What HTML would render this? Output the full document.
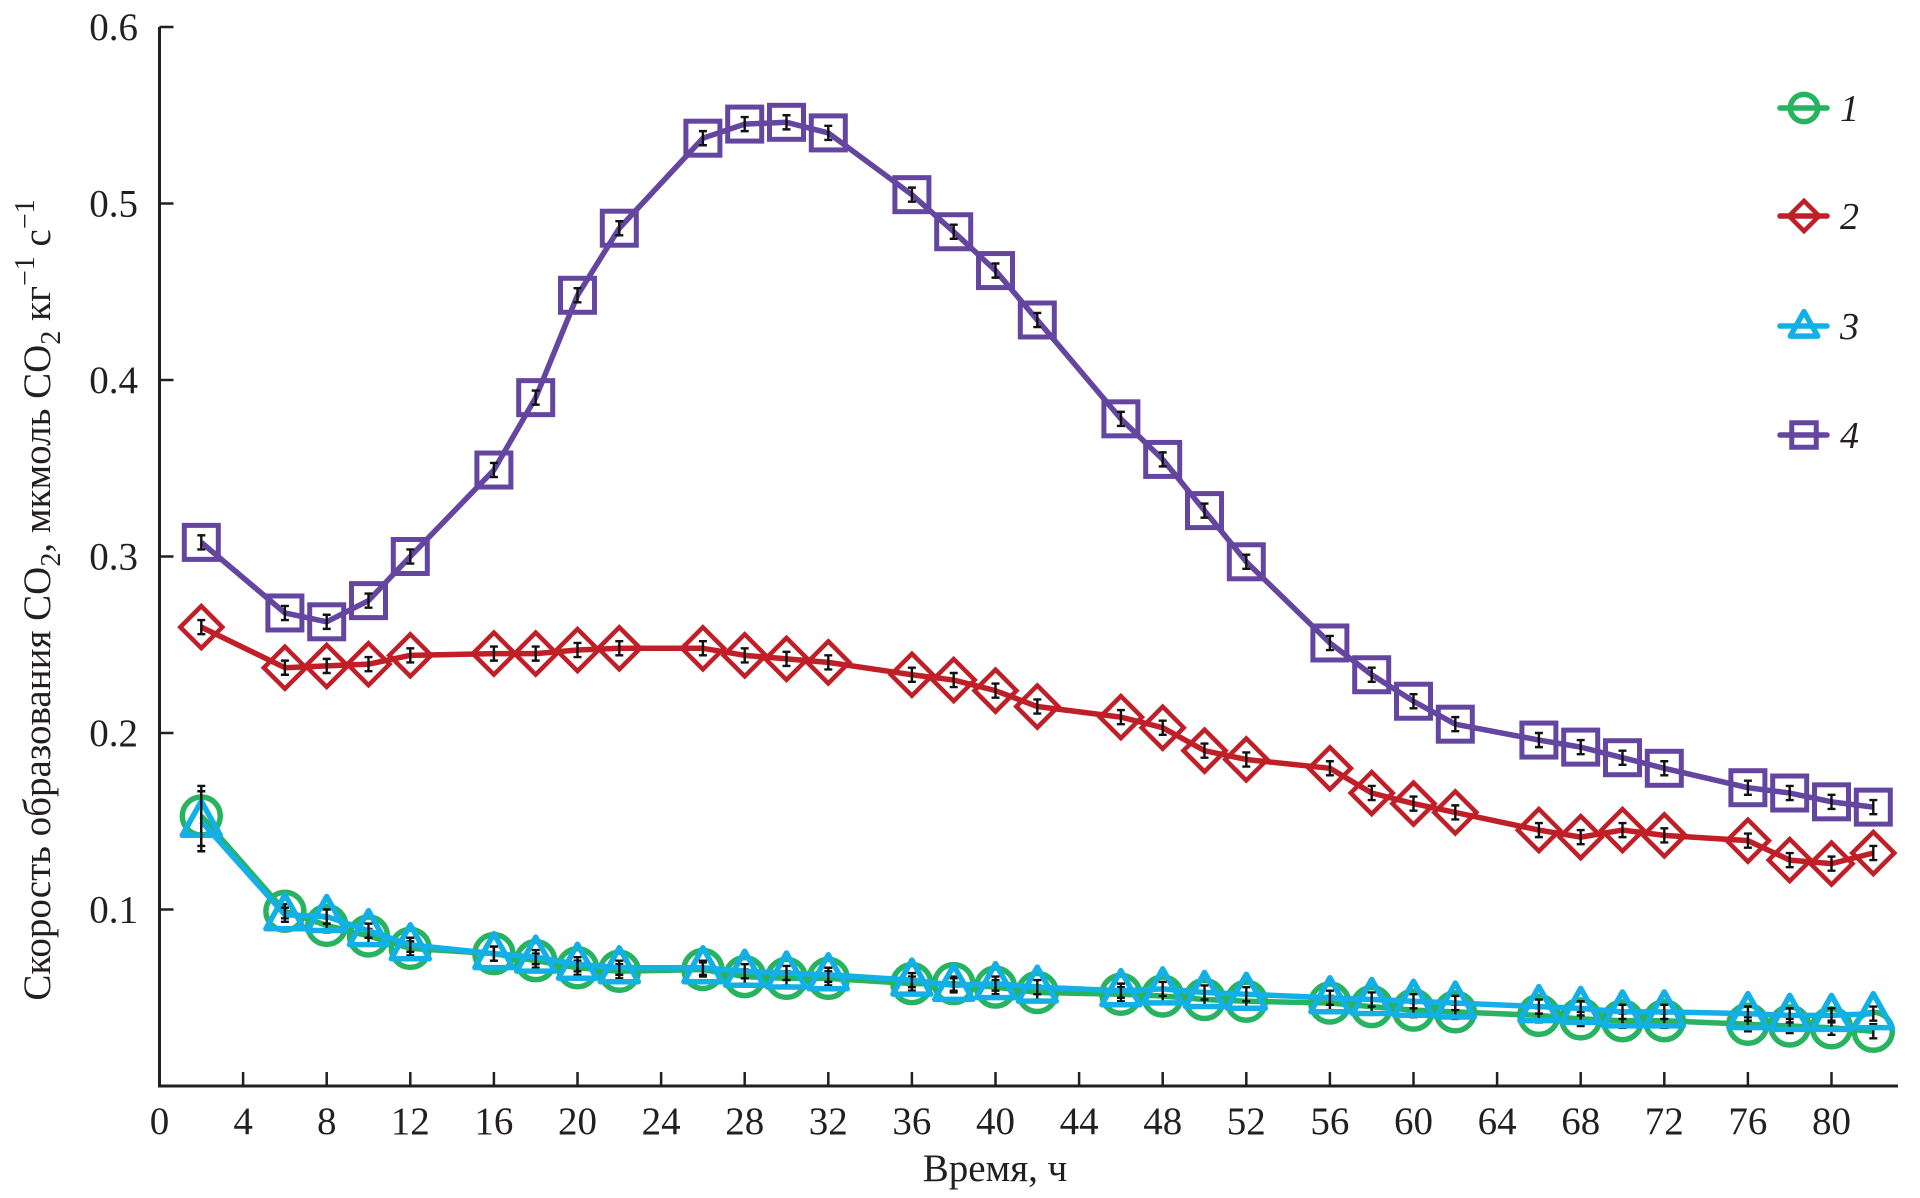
<!DOCTYPE html>
<html><head><meta charset="utf-8"><style>
html,body{margin:0;padding:0;background:#fff;}
svg{display:block;font-family:"Liberation Serif",serif;}
</style></head><body>
<svg id="chart" width="1920" height="1198" viewBox="0 0 1920 1198" xmlns="http://www.w3.org/2000/svg">
<g id="axes"></g>
<g id="series"></g>
<g id="legend"></g>
<text x="995" y="1181" font-size="39" text-anchor="middle" fill="#231f20">Время, ч</text>
<text transform="translate(50,600) rotate(-90)" font-size="39" text-anchor="middle" fill="#231f20">Скорость образования CO<tspan font-size="28" dy="10">2</tspan><tspan dy="-10">, мкмоль CO</tspan><tspan font-size="28" dy="10">2</tspan><tspan dy="-10"> кг</tspan><tspan font-size="28" dy="-16">−1</tspan><tspan dy="16"> с</tspan><tspan font-size="28" dy="-16">−1</tspan></text>
</svg>
<script>
const times = [2,6,8,10,12,16,18,20,22,26,28,30,32,36,38,40,42,46,48,50,52,56,58,60,62,66,68,70,72,76,78,80,82];
const series1 = [0.153,0.099,0.091,0.085,0.078,0.075,0.071,0.067,0.065,0.066,0.062,0.061,0.061,0.058,0.058,0.056,0.053,0.052,0.051,0.049,0.048,0.047,0.045,0.043,0.042,0.040,0.038,0.037,0.037,0.035,0.034,0.033,0.031];
const series2 = [0.260,0.237,0.238,0.239,0.244,0.245,0.245,0.247,0.248,0.248,0.244,0.242,0.240,0.233,0.230,0.224,0.215,0.209,0.203,0.190,0.185,0.180,0.166,0.160,0.155,0.145,0.141,0.145,0.142,0.139,0.128,0.126,0.132];
const series3 = [0.150,0.097,0.096,0.088,0.080,0.075,0.073,0.069,0.067,0.067,0.065,0.064,0.063,0.060,0.057,0.058,0.056,0.054,0.055,0.053,0.052,0.050,0.049,0.048,0.047,0.045,0.044,0.042,0.042,0.041,0.040,0.040,0.041];
const series4 = [0.308,0.268,0.263,0.275,0.300,0.349,0.390,0.448,0.486,0.537,0.545,0.546,0.540,0.505,0.484,0.462,0.434,0.378,0.355,0.326,0.297,0.251,0.233,0.218,0.205,0.196,0.192,0.186,0.180,0.169,0.166,0.161,0.158];
const xTicks = [0,4,8,12,16,20,24,28,32,36,40,44,48,52,56,60,64,68,72,76,80];
const yTicks = [0.1,0.2,0.3,0.4,0.5,0.6];
const yTickLabels = ["0.1","0.2","0.3","0.4","0.5","0.6"];
const legendLabels = ["1","2","3","4"];

const NS="http://www.w3.org/2000/svg";
const X=v=>159.5+20.9*v;
const Y=v=>1086-1765*v;
function mk(tag,parent,attrs){const e=document.createElementNS(NS,tag);for(const k in attrs)e.setAttribute(k,attrs[k]);parent.appendChild(e);return e;}
const axes=document.getElementById('axes');
let a=mk('path',axes,{d:`M${X(0)} ${Y(0.6)} V${Y(0)} H1898`,fill:'none',stroke:'#231f20','stroke-width':3});


xTicks.forEach(t=>{
  if(t>0){const l=mk('line',axes,{x1:X(t),x2:X(t),y1:Y(0),y2:Y(0)-14,stroke:'#231f20','stroke-width':2.5});
  
  }
  const tx=mk('text',axes,{x:X(t),y:1134,'font-size':39,'text-anchor':'middle',fill:'#231f20'});
  tx.textContent=t;
  
  
});
yTicks.forEach((t,i)=>{
  const l=mk('line',axes,{x1:X(0),x2:X(0)+14,y1:Y(t),y2:Y(t),stroke:'#231f20','stroke-width':2.5});
  
  
  const tx=mk('text',axes,{x:138,y:Y(t)+13,'font-size':39,'text-anchor':'end',fill:'#231f20'});
  tx.textContent=yTickLabels[i];
  
  
});
function marker(g,shape,cx,cy,color,s){
  let e;
  if(shape==='circle')e=mk('circle',g,{cx,cy,r:19*s,fill:'none',stroke:color,'stroke-width':5.5});
  if(shape==='diamond')e=mk('path',g,{d:`M${cx} ${cy-21*s} L${cx+21*s} ${cy} L${cx} ${cy+21*s} L${cx-21*s} ${cy}Z`,fill:'none',stroke:color,'stroke-width':4.5});
  if(shape==='triangle')e=mk('path',g,{d:`M${cx} ${cy-20*s} L${cx+19*s} ${cy+14*s} L${cx-19*s} ${cy+14*s}Z`,fill:'none',stroke:color,'stroke-width':5.5,'stroke-linejoin':'round'});
  if(shape==='square')e=mk('rect',g,{x:cx-17*s,y:cy-17*s,width:34*s,height:34*s,fill:'none',stroke:color,'stroke-width':5});
  return e;
}
const defs=[
 {name:'series-1',vals:series1,color:'#27b35f',shape:'circle'},
 {name:'series-2',vals:series2,color:'#c01f28',shape:'diamond'},
 {name:'series-3',vals:series3,color:'#12b0e6',shape:'triangle'},
 {name:'series-4',vals:series4,color:'#6445a0',shape:'square'}
];
const sg=document.getElementById('series');
const order=[1,3,0,2];
order.forEach(i=>{
  const d=defs[i];
  const g=mk('g',sg,{});
  
  
  const p=mk('polyline',g,{points:times.map((t,j)=>X(t)+','+Y(d.vals[j])).join(' '),fill:'none',stroke:d.color,'stroke-width':5.5,'stroke-linejoin':'round'});
  
  
  times.forEach((t,j)=>{
    const m=marker(g,d.shape,X(t),Y(d.vals[j]),d.color,1);
    
    
    const err=(j===0&&(i===0||i===2))?0.017:0.004;
    const cx=X(t),y1=Y(d.vals[j]+err),y2=Y(d.vals[j]-err);
    const eb=mk('path',g,{d:`M${cx} ${y1} V${y2} M${cx-4} ${y1} H${cx+4} M${cx-4} ${y2} H${cx+4}`,stroke:'#111','stroke-width':2.4,fill:'none'});
    
    
  });
});
const lg=document.getElementById('legend');
const ly=[108,216,326,435];
defs.forEach((d,i)=>{
  const g=mk('g',lg,{});
  
  
  mk('line',g,{x1:1780,x2:1827,y1:ly[i],y2:ly[i],stroke:d.color,'stroke-width':5.5,'stroke-linecap':'round'});
  marker(g,d.shape,1804,ly[i],d.color,0.72);
  const tx=mk('text',g,{x:1840,y:ly[i]+13,'font-size':38,'font-style':'italic',fill:'#231f20'});
  tx.textContent=legendLabels[i];
});
</script>
</body></html>
